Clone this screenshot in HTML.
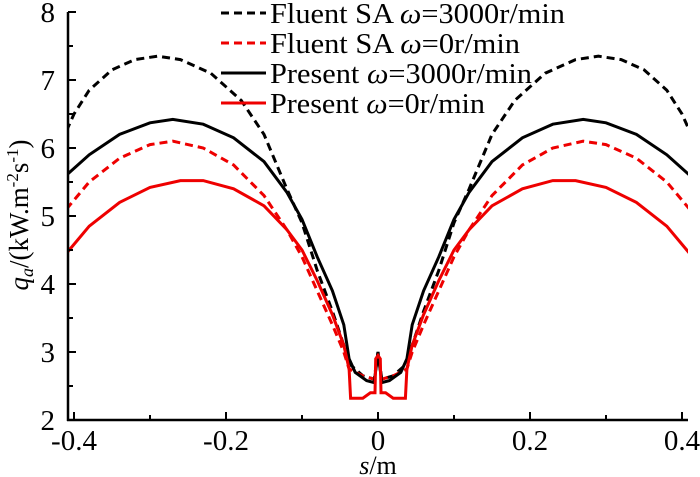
<!DOCTYPE html>
<html><head><meta charset="utf-8"><style>
body{margin:0;background:#fff}
svg{display:block}
text{font-family:"Liberation Serif","DejaVu Serif",serif}
</style></head><body>
<svg id="c" width="700" height="477" viewBox="0 0 700 477"></svg>
<script>
const sPos=[-0.41,-0.40,-0.38,-0.35,-0.32,-0.29,-0.26,-0.22,-0.18,-0.15,-0.12,-0.10,-0.08,-0.06,-0.045,-0.035,-0.02,-0.005,0];
const fluent3000=[6.25,6.5,6.85,7.15,7.3,7.35,7.3,7.1,6.7,6.2,5.4,4.9,4.2,3.6,3.1,2.8,2.65,2.6,3.0];
const sPosB=[-0.41,-0.38,-0.34,-0.30,-0.27,-0.23,-0.19,-0.15,-0.12,-0.10,-0.08,-0.06,-0.045,-0.038,-0.03,-0.015,-0.005,0];
const present3000=[5.6,5.9,6.2,6.37,6.42,6.35,6.15,5.8,5.35,4.95,4.4,3.9,3.4,2.9,2.7,2.58,2.55,3.0];
const sPosC=[-0.41,-0.38,-0.34,-0.30,-0.27,-0.23,-0.19,-0.15,-0.12,-0.10,-0.08,-0.06,-0.045,-0.038,-0.02,-0.005,0];
const fluent0=[5.1,5.5,5.85,6.05,6.1,6.0,5.75,5.3,4.8,4.4,3.9,3.4,3.0,2.75,2.65,2.6,2.95];
const sPosD=[-0.41,-0.38,-0.34,-0.30,-0.26,-0.23,-0.19,-0.15,-0.12,-0.10,-0.08,-0.06,-0.045,-0.038,-0.036,-0.02,-0.01,-0.004,-0.003,0];
const present0=[4.45,4.85,5.2,5.42,5.52,5.52,5.4,5.15,4.8,4.5,4.05,3.55,3.1,2.75,2.32,2.32,2.4,2.4,2.9,2.95];
const xTicks=[-0.4,-0.2,0,0.2,0.4];
const xTickLabels=["-0.4","-0.2","0","0.2","0.4"];
const yTicks=[2,3,4,5,6,7,8];
const legendLabels=["Fluent SA ω=3000r/min","Fluent SA ω=0r/min","Present ω=3000r/min","Present ω=0r/min"];
const legendWidths=[295,250,262,215];

const NS="http://www.w3.org/2000/svg";
const FF='"Liberation Serif", "DejaVu Serif", serif';
const svg=document.getElementById('c');
const X=v=>378+v*760, Y=v=>420-(v-2)*68;
function el(t,a,p){const e=document.createElementNS(NS,t);for(const k in a)e.setAttribute(k,a[k]);if(t==='text')e.setAttribute('font-family',FF);(p||svg).appendChild(e);return e;}
const clip=el('clipPath',{id:'cp'});el('rect',{x:68,y:0,width:620,height:420},clip);
function series(xs,ys,color,dash,name){
  const half=xs.map((s,i)=>[s,ys[i]]);
  const mir=half.slice(0,-1).reverse().map(p=>[-p[0],p[1]]);
  const pts=half.concat(mir).map(p=>X(p[0]).toFixed(1)+','+Y(p[1]).toFixed(1)).join(' ');
  const e=el('polyline',{points:pts,fill:'none',stroke:color,'stroke-width':3,'stroke-dasharray':dash||'none','clip-path':'url(#cp)'});
  
  
}
series(sPos,fluent3000,'#000','8,5','series-fluent-3000');
series(sPosC,fluent0,'#e00','8,5','series-fluent-0');
series(sPosB,present3000,'#000',null,'series-present-3000');
series(sPosD,present0,'#e00',null,'series-present-0');
const ax=el('path',{d:'M68,12V421M67,420H688',stroke:'#000','stroke-width':2.5,fill:'none'});


yTicks.forEach(v=>{el('line',{x1:68,x2:76,y1:Y(v),y2:Y(v),stroke:'#000','stroke-width':2});
  if(v<8)el('line',{x1:68,x2:73,y1:Y(v+0.5),y2:Y(v+0.5),stroke:'#000','stroke-width':2});
  const t=el('text',{x:55,y:Y(v)+10,'font-size':29,'text-anchor':'end'});t.textContent=v;
  
  });
xTicks.forEach((v,i)=>{el('line',{x1:X(v),x2:X(v),y1:420,y2:412,stroke:'#000','stroke-width':2});
  if(i<xTicks.length-1)el('line',{x1:X(v+0.1),x2:X(v+0.1),y1:420,y2:415,stroke:'#000','stroke-width':2});
  const t=el('text',{x:X(v),y:450,'font-size':29,'text-anchor':'middle'});t.textContent=xTickLabels[i];
  
  });
const xt=el('text',{x:378,y:474,'font-size':26,'text-anchor':'middle'});
xt.innerHTML='<tspan font-style="italic">s</tspan>/m';


const yt=el('text',{transform:'translate(28,215) rotate(-90)','font-size':27,'text-anchor':'middle'});
yt.innerHTML='<tspan font-style="italic">q</tspan><tspan font-style="italic" font-size="18" dy="5">a</tspan><tspan dy="-5">/(kW.m</tspan><tspan font-size="17" dy="-10">-2</tspan><tspan dy="10">s</tspan><tspan font-size="17" dy="-10">-1</tspan><tspan dy="10">)</tspan>';


const lc=['#000','#e00','#000','#e00'],ld=['8,5','8,5',null,null];
legendLabels.forEach((l,i)=>{const y=13+i*30;
  const g=el('g',{});
  
  
  el('line',{x1:221,x2:266,y1:y,y2:y,stroke:lc[i],'stroke-width':3,'stroke-dasharray':ld[i]||'none'},g);
  const t=el('text',{x:270,y:y+10,'font-size':28,textLength:legendWidths[i],lengthAdjust:'spacingAndGlyphs'},g);
  t.innerHTML=l.replace('ω','<tspan font-style="italic">ω</tspan>');
});
</script>
</body></html>
